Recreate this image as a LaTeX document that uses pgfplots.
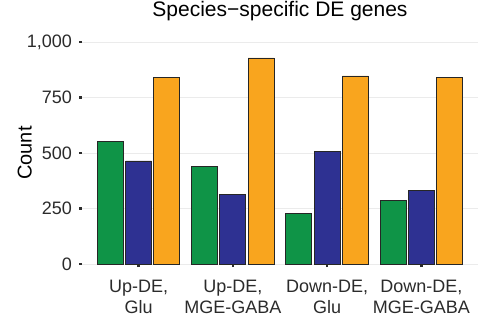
\documentclass[border=0pt]{standalone}
\usepackage{fontspec}
\setmainfont{Liberation Sans}
\usepackage{pgfplots}
\pgfplotsset{compat=1.18}
\definecolor{cgreen}{HTML}{0F9447}
\definecolor{cblue}{HTML}{2E3192}
\definecolor{corange}{HTML}{F9A51E}
\definecolor{gridc}{HTML}{EBEBEB}
\definecolor{txt}{HTML}{2B2B2B}
\begin{document}
\begin{tikzpicture}[x=1pt,y=1pt]
\begin{axis}[
  at={(0,0)}, anchor=south west,
  scale only axis, width=396pt, height=222pt,
  xmin=0.4, xmax=4.6, ymin=0, ymax=1000,
  axis line style={draw=none},
  tick pos=left,
  ytick={0,250,500,750,1000},
  xtick={1,2,3,4},
  xticklabels={{Up-DE,\\Glu},{Up-DE,\\MGE-GABA},{Down-DE,\\Glu},{Down-DE,\\MGE-GABA}},
  /pgf/number format/assume math mode=true,
  /pgf/number format/1000 sep={,},
  xticklabel style={align=center, font=\fontsize{18}{21}\selectfont, text=txt, inner sep=0pt, anchor=north, yshift=-11pt},
  yticklabel style={font=\fontsize{18}{21}\selectfont, text=txt, inner sep=0pt, anchor=east, xshift=-5pt},
  tick align=outside,
  major tick length=5pt,
  every major tick/.append style={line width=2.2pt, txt, dash pattern=on 0pt off 2pt on 3pt off 10pt},
  ymajorgrids,
  grid style={gridc, line width=1pt},
  title={Species−specific DE genes},
  title style={at={(axis description cs:0.5,1)}, anchor=base, yshift=19pt, inner sep=0pt, font=\fontsize{21}{25}\selectfont},
  ylabel={Count},
  ylabel style={at={(axis description cs:-0.1263,0.5)}, anchor=south, inner sep=0pt, font=\fontsize{20}{24}\selectfont},
  ybar, bar width=0.275,
  every axis plot/.append style={draw=black!85, line width=0.8pt, bar shift=0pt},
]
\addplot[fill=cgreen] coordinates {(0.7,551) (1.7,441) (2.7,227) (3.7,285)};
\addplot[fill=cblue] coordinates {(1,464) (2,315) (3,505) (4,333)};
\addplot[fill=corange] coordinates {(1.3,842) (2.3,928) (3.3,847) (4.3,842)};
\end{axis}
\pgfresetboundingbox
\path (-82pt,-60pt) rectangle (396pt,264pt);
\end{tikzpicture}
\end{document}
